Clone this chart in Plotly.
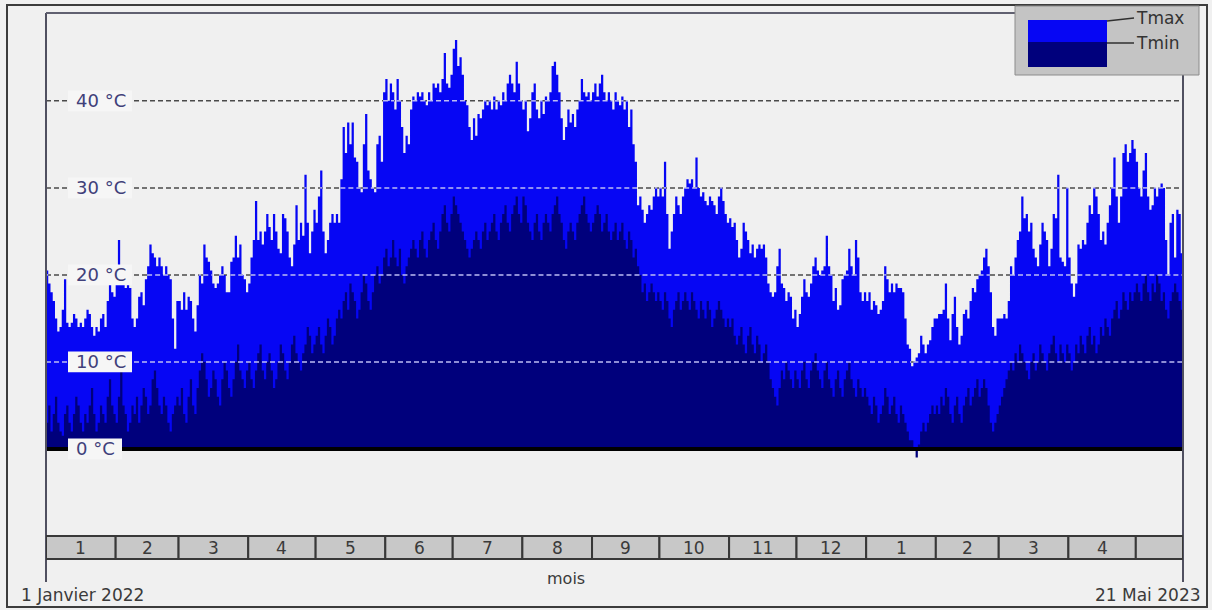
import datetime as dt
import plotly.graph_objects as go

# ---------------------------------------------------------------------------
# Daily temperatures (°C), 1 January 2022 -> 21 May 2023
# ---------------------------------------------------------------------------
START = dt.date(2022, 1, 1)

TMAX_2022 = [
    # janvier
    20.5, 19, 18, 17, 15, 13.5, 14, 16, 19.5, 14.5, 14, 14.5, 15.5, 15, 14, 14.5,
    14, 15, 16, 15.5, 14, 13, 14, 13.5, 15, 15.5, 14, 17, 19, 18, 17.5,
    # fevrier
    19, 24, 19, 19, 18.5, 19, 18.5, 15, 14, 15, 17.5, 18, 16.5, 19.5, 21, 23.5,
    22.5, 22, 21, 22, 21, 20, 21, 20, 19.5, 15, 11.5, 17,
    # mars
    17, 16, 18, 16, 17.5, 17, 15, 13.5, 16.5, 20, 19, 23.5, 22, 21.5, 20.5, 19,
    18.5, 19, 20, 21, 20, 18, 18, 21.5, 22, 24.5, 22, 23.5, 20, 19.5, 18,
    # avril
    19, 22, 24, 28.5, 24, 25, 23.5, 25, 27, 25.5, 24, 27, 25, 23, 22.5, 27,
    26.5, 25, 22, 21, 23.5, 28, 24, 26, 24.5, 31.5, 26, 22.5, 25, 27.5,
    # mai
    26, 29, 32, 25, 22.5, 24, 26, 27, 26, 27, 26, 31, 37, 34, 37.5, 35,
    37.5, 33.5, 33, 30, 29.5, 35, 38.5, 32, 31, 30, 29.5, 35, 36, 33, 41,
    # juin
    42.5, 40, 42, 41, 39, 42.5, 40, 37, 34, 36, 35, 39, 40.5, 40, 41, 40.5,
    41, 40, 39.5, 41, 40, 42, 41.5, 42, 41, 42.5, 45.5, 42, 41.5, 43,
    # juillet
    46, 47, 44, 45, 43, 40, 39.5, 37, 35.5, 38, 36, 38.5, 38, 39, 40, 39.5,
    40, 39, 40.5, 39, 40, 39.5, 41, 40, 42, 43, 42, 41, 44.5, 42, 40,
    # aout
    39, 40, 36.5, 38, 41, 42, 39, 38, 40, 38.5, 40.5, 40, 41, 44, 44.5, 43,
    41, 38, 35.5, 37, 39, 37.5, 38.5, 37, 39, 40, 42.5, 41, 40.5, 41, 40,
    # septembre
    41, 42, 40.5, 42, 43, 41, 40, 41, 40, 39, 41, 40, 39.5, 40.5, 39, 40,
    37, 39, 35, 33, 28, 29, 27.5, 26, 27, 28, 27.5, 29, 30, 29,
    # octobre
    30, 29, 33, 27, 23, 25, 27, 29, 28, 27, 29, 30, 31, 30.5, 31, 30,
    33.5, 30, 29, 29.5, 28.5, 28, 29, 28.5, 28, 27, 29, 30, 28.5, 27, 26,
    # novembre
    26.5, 25.5, 26, 24, 22, 23, 26, 25, 24, 22.5, 23.5, 22, 23, 23.5, 23, 23.5,
    22, 19, 18, 17.5, 18, 21, 23, 19, 18.5, 17, 18, 17.5, 15, 16,
    # decembre
    14, 15.5, 17.5, 19.5, 18, 17.5, 19, 21, 22, 20.5, 20, 20.5, 21, 24.5, 21, 20,
    17, 18.5, 16, 16.5, 19.5, 20, 20.5, 23, 21, 20, 24, 22, 18, 17, 18,
]

TMIN_2022 = [
    # janvier
    3, 5, 2, 4, 6, 3, 2, 1.5, 4, 5, 3, 2, 4, 6, 5, 3,
    2, 4, 3, 5, 7, 4, 2, 3, 5, 4, 3, 6, 8, 5, 4,
    # fevrier
    3, 6, 9, 5, 4, 2, 3, 5, 4, 6, 3, 5, 7, 6, 4, 5,
    8, 9, 7, 5, 4, 6, 5, 3, 2, 4, 5, 6,
    # mars
    5, 7, 4, 3, 6, 8, 5, 4, 7, 9, 11, 10, 8, 6, 7, 9,
    8, 6, 5, 8, 10, 9, 7, 6, 8, 10, 12, 9, 8, 7, 9,
    # avril
    10, 8, 7, 9, 11, 12, 9, 8, 10, 11, 9, 7, 8, 10, 12, 11,
    9, 8, 10, 12, 13, 11, 10, 9, 11, 12, 14, 13, 11, 12,
    # mai
    13, 14, 12, 11, 13, 15, 14, 12, 13, 15, 16, 15, 17, 18, 16, 19,
    18, 17, 15, 16, 18, 20, 19, 17, 16, 18, 20, 21, 19, 20, 22,
    # juin
    23, 21, 22, 24, 22, 21, 23, 20, 19, 21, 22, 23, 24, 23, 22, 24,
    25, 23, 22, 24, 25, 26, 24, 23, 25, 27, 28, 26, 25, 27,
    # juillet
    29, 28, 27, 26, 25, 24, 23, 22, 23, 24, 25, 24, 23, 25, 26, 24,
    25, 26, 27, 25, 24, 26, 27, 28, 26, 25, 27, 28, 29, 27, 26,
    # aout
    29, 28, 26, 25, 24, 26, 27, 25, 24, 26, 27, 26, 25, 27, 28, 29,
    27, 26, 24, 23, 25, 26, 25, 24, 26, 27, 28, 29, 27, 26, 25,
    # septembre
    26, 27, 28, 27, 25, 26, 27, 25, 24, 25, 26, 24, 25, 26, 24, 23,
    25, 24, 22, 23, 21, 20, 18, 19, 17, 18, 19, 18, 17, 18,
    # octobre
    17, 16, 18, 17, 15, 14, 16, 17, 18, 16, 17, 18, 17, 16, 18, 17,
    16, 15, 17, 16, 15, 17, 16, 14, 15, 16, 17, 16, 15, 14, 15,
    # novembre
    14, 15, 13, 12, 13, 14, 12, 11, 13, 14, 12, 11, 13, 12, 10, 11,
    12, 10, 8, 7, 6, 5, 7, 9, 8, 10, 9, 8, 7, 9,
    # decembre
    8, 7, 9, 10, 8, 7, 9, 10, 11, 9, 8, 7, 9, 10, 8, 7,
    6, 8, 9, 7, 6, 8, 9, 10, 8, 7, 6, 8, 7, 6, 7,
]

TMAX_2023 = [
    # janvier
    17, 18, 16, 17, 16.5, 15.5, 16, 17, 21, 19.5, 18, 19, 18, 19, 18.5, 18.5,
    18, 15, 12, 11.5, 9.5, 10, 10.5, 11, 13, 12, 11, 12, 12.5, 14, 15,
    # fevrier
    15, 15.5, 15.5, 16, 19, 15, 12.5, 15.5, 17.5, 14, 12, 13, 15.5, 16, 15, 17,
    18.5, 18, 19.5, 20, 20.5, 22, 23, 21, 18, 14, 13, 15,
    # mars
    15, 15, 15.5, 15, 17, 21, 20, 22, 24, 25, 29, 26.5, 27, 25, 26, 23,
    22, 21, 23.5, 26, 25, 24, 21, 23, 27, 26.5, 31.5, 22, 21.5, 21, 30,
    # avril
    22, 19, 17.5, 19, 23.5, 23, 24, 23.5, 26, 28, 27, 30, 29, 27, 24, 25,
    23.5, 26, 28, 30, 33.5, 29, 26, 29, 34, 35, 33, 34, 35.5, 34.5,
    # mai (jusqu'au 21)
    33, 30, 29, 32, 34, 29, 27.5, 28, 30, 29, 30, 30.5, 30, 24, 20, 26,
    27, 22, 27.5, 27, 22.5,
]

TMIN_2023 = [
    # janvier
    6, 5, 4, 6, 5, 3, 4, 5, 7, 6, 4, 5, 6, 4, 3, 5,
    4, 3, 2, 1, 1, 0, -1, 0.5, 2, 3, 2, 3, 4, 5, 4,
    # fevrier
    5, 4, 6, 5, 7, 6, 4, 3, 5, 6, 4, 3, 5, 6, 7, 5,
    6, 7, 8, 6, 7, 8, 7, 5, 3, 2, 3, 4,
    # mars
    5, 6, 7, 8, 9, 10, 9, 11, 10, 12, 11, 10, 9, 8, 10, 11,
    9, 10, 12, 11, 10, 9, 11, 12, 13, 11, 10, 12, 11, 10, 12,
    # avril
    11, 9, 10, 12, 11, 13, 12, 11, 13, 14, 12, 13, 11, 12, 14, 13,
    15, 14, 13, 15, 16, 17, 15, 16, 18, 17, 16, 18, 17, 18,
    # mai (jusqu'au 21)
    19, 18, 17, 19, 20, 18, 17, 19, 18, 20, 19, 17, 18, 16, 15, 17,
    18, 19, 18, 17, 16,
]

MONTH_LABELS = ["1", "2", "3", "4", "5", "6", "7", "8", "9", "10", "11", "12",
                "1", "2", "3", "4", ""]
Y_LEVELS = [0, 10, 20, 30, 40]
Y_LABELS = ["0 °C", "10 °C", "20 °C", "30 °C", "40 °C"]
SERIES_NAMES = ["Tmax", "Tmin"]
DATE_FIRST = "1 Janvier 2022"
DATE_LAST = "21 Mai 2023"
X_TITLE = "mois"

# ---------------------------------------------------------------------------
# Styling and geometry
# ---------------------------------------------------------------------------
W, H = 1212, 610
PL, PR, PT, PB = 46, 1183, 13, 582          # plot area in pixels
Y_RANGE = [-15.3, 50.1]

BLUE = "#0606f4"
NAVY = "#00007c"
BG = "#f0f0f0"
FONT = "DejaVu Sans"
TXT = "#3a3a3a"
LBL = "#40407a"


def px(x):
    return (x - PL) / (PR - PL)


def py(y):
    return (PB - y) / (PB - PT)


tmax = TMAX_2022 + TMAX_2023
tmin = TMIN_2022 + TMIN_2023
n = len(tmax)
days = [START + dt.timedelta(days=i) for i in range(n + 1)]
end = days[-1]

fig = go.Figure()

# daily columns drawn as filled step curves
for vals, col, name in ((tmax, BLUE, SERIES_NAMES[0]), (tmin, NAVY, SERIES_NAMES[1])):
    fig.add_trace(go.Scatter(
        x=days, y=vals + [vals[-1]], name=name, mode="lines",
        line=dict(width=0, shape="hv", color=col),
        fill="tozeroy", fillcolor=col, hoverinfo="skip", showlegend=False,
    ))

# grid dashes are drawn light wherever they cross the columns
for level in Y_LEVELS[1:]:
    xs, ys = [], []
    i = 0
    while i < n:
        if tmax[i] >= level:
            j = i
            while j < n and tmax[j] >= level:
                j += 1
            xs += [days[i], days[j], None]
            ys += [level, level, None]
            i = j
        else:
            i += 1
    fig.add_trace(go.Scatter(
        x=xs, y=ys, mode="lines", hoverinfo="skip", showlegend=False,
        line=dict(color="#bcbcf4", width=1.5, dash="5px,3px"),
    ))

shapes = []
# outer frame
shapes.append(dict(type="rect", xref="paper", yref="paper",
                   x0=px(7), x1=px(1207), y0=py(607), y1=py(5),
                   line=dict(color="#3c3c3c", width=2), layer="below"))
# dark grid dashes on the background
for level in Y_LEVELS[1:]:
    shapes.append(dict(type="line", xref="paper", yref="y", x0=0, x1=1,
                       y0=level, y1=level, layer="below",
                       line=dict(color="#4a4a4a", width=1.5, dash="5px,3px")))
# zero line
shapes.append(dict(type="line", xref="paper", yref="y", x0=0, x1=1, y0=0, y1=0,
                   line=dict(color="#000000", width=4), layer="above"))
# plot borders
shapes.append(dict(type="line", xref="paper", yref="paper", x0=0, x1=0, y0=0, y1=1,
                   line=dict(color="#505060", width=2), layer="above"))
shapes.append(dict(type="line", xref="paper", yref="paper", x0=1, x1=1, y0=0, y1=1,
                   line=dict(color="#505060", width=2), layer="above"))
shapes.append(dict(type="line", xref="paper", yref="paper", x0=0, x1=1, y0=1, y1=1,
                   line=dict(color="#606070", width=2), layer="above"))

# label boxes on the value scale
for level, lab in zip(Y_LEVELS, Y_LABELS):
    x1 = 122 if len(lab) < 5 else 132
    shapes.append(dict(type="rect", xref="paper", yref="y",
                       x0=px(68), x1=px(x1), y0=level - 1.2, y1=level + 1.2,
                       fillcolor="#f6f6f6", line=dict(width=0), layer="above"))

# month strip
month_starts = []
y, m = START.year, START.month
while dt.date(y, m, 1) < end:
    month_starts.append(dt.date(y, m, 1))
    m += 1
    if m > 12:
        y, m = y + 1, 1
month_edges = month_starts + [end]
for k, lab in enumerate(MONTH_LABELS):
    a, b = month_edges[k], month_edges[k + 1]
    shapes.append(dict(type="rect", xref="x", yref="paper", x0=a, x1=b,
                       y0=py(559), y1=py(536), fillcolor="#c8c8c8",
                       line=dict(color="#383838", width=2), layer="above"))

# legend panel
shapes.append(dict(type="rect", xref="paper", yref="paper",
                   x0=px(1015), x1=px(1199), y0=py(75), y1=py(6),
                   fillcolor="#c4c4c4", line=dict(color="#8c8c8c", width=1),
                   layer="above"))
shapes.append(dict(type="rect", xref="paper", yref="paper",
                   x0=px(1028), x1=px(1107), y0=py(42), y1=py(20),
                   fillcolor=BLUE, line=dict(width=0), layer="above"))
shapes.append(dict(type="rect", xref="paper", yref="paper",
                   x0=px(1028), x1=px(1107), y0=py(67), y1=py(42),
                   fillcolor=NAVY, line=dict(width=0), layer="above"))
shapes.append(dict(type="line", xref="paper", yref="paper",
                   x0=px(1107), x1=px(1134), y0=py(21), y1=py(18),
                   line=dict(color="#303030", width=1.5), layer="above"))
shapes.append(dict(type="line", xref="paper", yref="paper",
                   x0=px(1107), x1=px(1134), y0=py(43), y1=py(43),
                   line=dict(color="#303030", width=1.5), layer="above"))

annotations = []
for level, lab in zip(Y_LEVELS, Y_LABELS):
    annotations.append(dict(x=px(74), y=level, xref="paper", yref="y",
                            text=lab, showarrow=False, xanchor="left",
                            yanchor="middle",
                            font=dict(family=FONT, size=18, color=LBL)))
for k, lab in enumerate(MONTH_LABELS):
    a, b = month_edges[k], month_edges[k + 1]
    mid = dt.datetime.combine(a, dt.time()) + (b - a) / 2
    annotations.append(dict(x=mid, y=py(548), xref="x", yref="paper", text=lab,
                            showarrow=False, xanchor="center", yanchor="middle",
                            font=dict(family=FONT, size=17, color=TXT)))
annotations.append(dict(x=px(566), y=py(578), xref="paper", yref="paper",
                        text=X_TITLE, showarrow=False, xanchor="center",
                        yanchor="middle", font=dict(family=FONT, size=16, color=TXT)))
annotations.append(dict(x=px(19), y=py(595), xref="paper", yref="paper",
                        text=DATE_FIRST, showarrow=False, xanchor="left",
                        yanchor="middle", font=dict(family=FONT, size=17, color=TXT)))
annotations.append(dict(x=px(1203), y=py(595), xref="paper", yref="paper",
                        text=DATE_LAST, showarrow=False, xanchor="right",
                        yanchor="middle", font=dict(family=FONT, size=17, color=TXT)))
for name, yy in zip(SERIES_NAMES, (18, 43)):
    annotations.append(dict(x=px(1134), y=py(yy), xref="paper", yref="paper",
                            text=name, showarrow=False, xanchor="left",
                            yanchor="middle",
                            font=dict(family=FONT, size=17, color="#333333")))

fig.update_layout(
    width=W, height=H,
    margin=dict(l=PL, r=W - PR, t=PT, b=H - PB, pad=0),
    paper_bgcolor=BG, plot_bgcolor="rgba(0,0,0,0)",
    xaxis=dict(type="date", range=[START, end], showgrid=False, zeroline=False,
               showticklabels=False, ticks="", showline=False, fixedrange=True),
    yaxis=dict(range=Y_RANGE, showgrid=False, zeroline=False,
               showticklabels=False, ticks="", showline=False, fixedrange=True),
    shapes=shapes, annotations=annotations, showlegend=False,
)

fig.write_html("out.html")
